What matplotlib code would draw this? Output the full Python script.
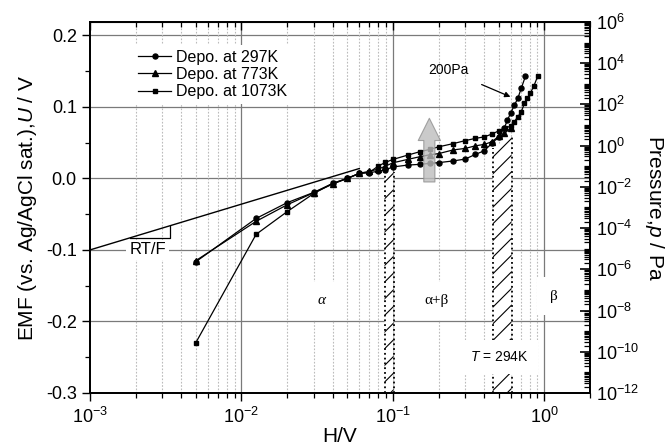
import numpy as np
import matplotlib.pyplot as plt
from matplotlib.ticker import LogLocator, MultipleLocator, NullFormatter, FixedLocator

plt.rcParams['font.family'] = ['Liberation Sans', 'DejaVu Sans']
plt.rcParams['mathtext.fontset'] = 'custom'
plt.rcParams['mathtext.rm'] = 'Liberation Sans'
plt.rcParams['mathtext.it'] = 'Liberation Sans:italic'
plt.rcParams['hatch.linewidth'] = 0.8

# Depo. at 297K
h_297 = [0.005, 0.0125, 0.02, 0.03, 0.04, 0.05, 0.06, 0.07, 0.08, 0.089, 0.1,
         0.125, 0.15, 0.175, 0.2, 0.25, 0.3, 0.35, 0.4, 0.45, 0.5, 0.545,
         0.57, 0.6, 0.634, 0.667, 0.703, 0.75]
u_297 = [-0.1165, -0.056, -0.034, -0.0196, -0.007, 0.0, 0.007, 0.008, 0.010,
         0.012, 0.016, 0.0186, 0.0196, 0.021, 0.022, 0.0244, 0.027, 0.0335,
         0.0385, 0.049, 0.058, 0.071, 0.0814, 0.0916, 0.1024, 0.1117, 0.1257,
         0.1429]

# Depo. at 773K
h_773 = [0.005, 0.0125, 0.02, 0.03, 0.04, 0.05, 0.06, 0.07, 0.08, 0.089, 0.1,
         0.125, 0.15, 0.175, 0.2, 0.25, 0.3, 0.35, 0.4, 0.45, 0.5, 0.545, 0.6]
u_773 = [-0.115, -0.060, -0.037, -0.020, -0.008, 0.0, 0.007, 0.010, 0.013,
         0.017, 0.0218, 0.0265, 0.0302, 0.033, 0.0346, 0.0398, 0.0419, 0.0455,
         0.0475, 0.0511, 0.059, 0.0628, 0.0707]

# Depo. at 1073K
h_1073 = [0.005, 0.0125, 0.02, 0.03, 0.04, 0.05, 0.06, 0.07, 0.08, 0.089, 0.1,
          0.125, 0.15, 0.175, 0.2, 0.25, 0.3, 0.35, 0.4, 0.45, 0.5, 0.55, 0.6,
          0.634, 0.667, 0.703, 0.738, 0.769, 0.809, 0.851, 0.904]
u_1073 = [-0.2296, -0.0782, -0.0466, -0.0212, -0.007, 0.0, 0.007, 0.0085,
          0.0172, 0.0223, 0.0265, 0.0325, 0.0372, 0.0405, 0.0441, 0.0486,
          0.0528, 0.0559, 0.058, 0.0619, 0.0665, 0.0698, 0.0735, 0.0795, 0.086,
          0.093, 0.1047, 0.1117, 0.1196, 0.1289, 0.1429]

# RT/F tangent line and slope triangle
tangent_h = [1e-3, 0.06]
tangent_u = [-0.1, 0.0138]
slope_h = [1.84e-3, 3.38e-3, 3.38e-3]
slope_u = [-0.0831, -0.0831, -0.0661]

# two-phase boundaries (hatched bands)
band1_h = [0.088, 0.101]
band1_top = [0.006, 0.009]
band2_h = [0.456, 0.607]
band2_top = [0.042, 0.058]

fig = plt.figure(figsize=(6.68, 4.48), dpi=100)
ax = fig.add_axes([0.1347, 0.1228, 0.8832 - 0.1347, 0.951 - 0.1228])

ax.set_xscale('log')
ax.set_xlim(1e-3, 2.0)
ax.set_ylim(-0.3, 0.2187)

# grid
for yv in [-0.2, -0.1, 0.0, 0.1, 0.2]:
    ax.axhline(yv, color='#7a7a7a', lw=0.9, zorder=0)
for xv in [1e-2, 1e-1, 1e0]:
    ax.axvline(xv, color='#7a7a7a', lw=0.9, zorder=0)
for dec in [1e-3, 1e-2, 1e-1, 1e0]:
    for m in range(2, 10):
        xv = m * dec
        if xv < 2.0:
            ax.axvline(xv, color='#bbbbbb', lw=0.8, ls=(0, (1.5, 1.5)), zorder=0)

# hatched bands
for bh, bt in [(band1_h, band1_top), (band2_h, band2_top)]:
    ax.fill_between(bh, -0.3, bt, facecolor='white', edgecolor='black',
                    linewidth=0, hatch='//', zorder=1)
    ax.plot([bh[0], bh[0]], [-0.3, bt[0]], ls=':', color='black', lw=1.3, zorder=2)
    ax.plot([bh[1], bh[1]], [-0.3, bt[1]], ls=':', color='black', lw=1.3, zorder=2)

# tangent line
ax.plot(tangent_h, tangent_u, color='black', lw=1.0, zorder=3)
ax.plot(slope_h, slope_u, color='black', lw=0.9, zorder=3)
ax.text(2.4e-3, -0.1, 'RT/F', ha='center', va='center', fontsize=12,
        bbox=dict(facecolor='white', edgecolor='none', pad=2), zorder=4)

# data
ax.plot(h_297, u_297, '-o', color='black', lw=0.9, ms=3.6, label='Depo. at 297K', zorder=5)
ax.plot(h_773, u_773, '-^', color='black', lw=0.9, ms=3.8, label='Depo. at 773K', zorder=5)
ax.plot(h_1073, u_1073, '-s', color='black', lw=0.9, ms=3.4, label='Depo. at 1073K', zorder=5)

# gray arrow
ax.annotate('', xy=(0.174, 0.084), xytext=(0.174, -0.005),
            arrowprops=dict(arrowstyle='simple,head_width=1.0,head_length=1.0,tail_width=0.5',
                            mutation_scale=16, facecolor='#bdbdbd', edgecolor='#8f8f8f',
                            alpha=0.8, shrinkA=0, shrinkB=0, lw=0.8),
            zorder=6)

# 200 Pa annotation
ax.annotate('200Pa', xy=(0.597, 0.114), xytext=(0.233, 0.151),
            ha='center', va='center', fontsize=10,
            arrowprops=dict(arrowstyle='-|>', color='black', lw=0.9,
                            mutation_scale=8, shrinkA=8, shrinkB=0),
            zorder=7)

# phase labels
box = dict(facecolor='white', edgecolor='none', pad=9)
ax.text(0.0337, -0.171, 'α', ha='center', va='center', fontsize=11,
        family='Liberation Serif', style='italic', bbox=box, zorder=7)
ax.text(0.194, -0.171, 'α+β', ha='center', va='center', fontsize=11,
        family='Liberation Serif', bbox=box, zorder=7)
ax.text(1.15, -0.165, 'β', ha='center', va='center', fontsize=11,
        family='Liberation Serif', bbox=box, zorder=7)
ax.text(0.5, -0.25, '$T$ = 294K', ha='center', va='center', fontsize=10,
        bbox=dict(facecolor='white', edgecolor='none', pad=7), zorder=7)

leg = ax.legend(loc='upper left', bbox_to_anchor=(0.07, 0.96), fontsize=11.5,
                frameon=True, fancybox=False, handlelength=2.1, handletextpad=0.3,
                labelspacing=0.15, borderpad=0.3)
leg.get_frame().set_edgecolor('none')
leg.get_frame().set_facecolor('white')
leg.get_frame().set_alpha(1)
leg.set_zorder(8)

# left / bottom axes
ax.yaxis.set_major_locator(FixedLocator([-0.3, -0.2, -0.1, 0.0, 0.1, 0.2]))
ax.yaxis.set_minor_locator(MultipleLocator(0.05))
ax.set_yticklabels(['-0.3', '-0.2', '-0.1', '0.0', '0.1', '0.2'])
ax.xaxis.set_major_locator(LogLocator(base=10, numticks=10))
ax.xaxis.set_minor_locator(LogLocator(base=10, subs=np.arange(2, 10), numticks=20))
ax.xaxis.set_minor_formatter(NullFormatter())
ax.tick_params(axis='both', which='major', direction='out', length=6, width=1.0,
               labelsize=13)
ax.tick_params(axis='both', which='minor', direction='out', length=3.5, width=0.9)
ax.tick_params(axis='x', which='both', pad=4)
for s in ax.spines.values():
    s.set_linewidth(1.3)

# top axis with inward ticks, no labels
top = ax.secondary_xaxis('top')
top.xaxis.set_major_locator(LogLocator(base=10, numticks=10))
top.xaxis.set_minor_locator(LogLocator(base=10, subs=np.arange(2, 10), numticks=20))
top.xaxis.set_major_formatter(NullFormatter())
top.xaxis.set_minor_formatter(NullFormatter())
top.tick_params(which='major', direction='in', length=6, width=1.0)
top.tick_params(which='minor', direction='in', length=3.5, width=0.9)

ax.set_xlabel('H/V', fontsize=15, labelpad=0)
ax.set_ylabel('EMF (vs. Ag/AgCl sat.),$U$ / V', fontsize=15, labelpad=5)

# right pressure axis
ax2 = ax.twinx()
ax2.set_yscale('log')
ax2.set_ylim(1e-12, 1e6)
ax2.yaxis.set_major_locator(FixedLocator([10.0 ** k for k in range(-12, 7, 2)]))
ax2.yaxis.set_minor_locator(LogLocator(base=10, subs=np.arange(1, 10), numticks=40))
ax2.yaxis.set_minor_formatter(NullFormatter())
ax2.tick_params(axis='y', which='major', direction='in', length=7, width=1.2,
                labelsize=13, pad=4)
ax2.tick_params(axis='y', which='minor', direction='in', length=4, width=0.9)
ax2.set_ylabel('Pressure,$p$ / Pa', fontsize=15, rotation=270, labelpad=20)
for s in ax2.spines.values():
    s.set_linewidth(1.3)

fig.savefig('out.png', dpi=100)
